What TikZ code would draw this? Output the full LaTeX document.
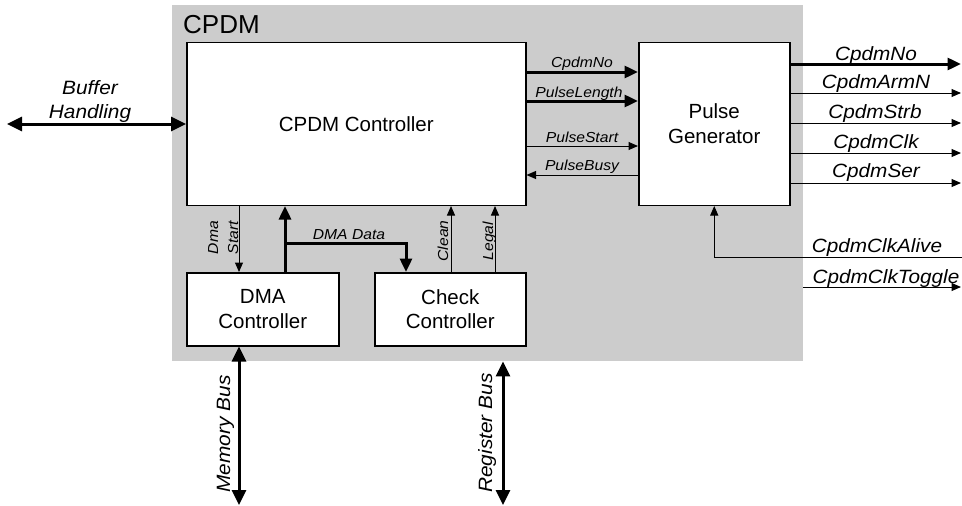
\documentclass[tikz,border=0pt]{standalone}
\usepackage{fontspec}
\setmainfont{Liberation Sans}
\newfontfamily\sigfont[FakeStretch=1.08]{Liberation Sans}
\usetikzlibrary{arrows.meta}
\definecolor{cpdmgray}{HTML}{CCCCCC}

\begin{document}
\begin{tikzpicture}[x=1pt,y=-1pt,
  block/.style={draw, line width=1.5pt, fill=white, inner sep=0pt, align=center,
    font=\fontsize{20.5}{24.7}\selectfont},
  sig/.style={inner sep=0pt, font=\sigfont\itshape\fontsize{14.5}{17}\selectfont},
  outsig/.style={inner sep=0pt, font=\sigfont\itshape\fontsize{19.2}{22}\selectfont},
  buslabel/.style={inner sep=0pt, align=center, font=\sigfont\itshape\fontsize{19.3}{23.5}\selectfont},
  thinarr/.style={line width=1pt, -{Triangle[length=9.5pt,width=8pt]}},
  thickarr/.style={line width=3pt, -{Triangle[length=13.5pt,width=12pt]}},
  busarr/.style={line width=3pt, {Triangle[length=15pt,width=14pt]}-{Triangle[length=15pt,width=14pt]}},
]
\useasboundingbox (0,0) rectangle (962,506);

% enclosing CPDM region
\node[fill=cpdmgray, inner sep=0pt, minimum width=631pt, minimum height=356pt, anchor=north west]
  (cpdm) at (172,5) {};
\node[inner sep=0pt, anchor=base west, font=\fontsize{26}{30}\selectfont] (cpdmlabel) at (183,34) {CPDM};

% functional blocks
\node[block, minimum width=339pt, minimum height=163pt, anchor=north west] (ctrl) at (186,41.5) {CPDM Controller};
\node[block, minimum width=151pt, minimum height=163pt, anchor=north west] (pg) at (638,41.5) {Pulse\\Generator};
\node[block, minimum width=152pt, minimum height=73pt, anchor=north west] (dma) at (186,272) {DMA\\Controller};
\node[block, minimum width=151pt, minimum height=73pt, anchor=north west] (chk) at (374,272) {Check\\Controller};

% controller <-> pulse generator
\draw[thickarr] (ctrl.east |- 0,72) -- (pg.west |- 0,72);
\draw[thickarr] (ctrl.east |- 0,101) -- (pg.west |- 0,101);
\draw[thinarr] (ctrl.east |- 0,146) -- (pg.west |- 0,146);
\draw[thinarr] (pg.west |- 0,175) -- (ctrl.east |- 0,175);
\node[sig, anchor=base] (lno)    at (582,67.5) {CpdmNo};
\node[sig, anchor=base] (llen)   at (579,97)   {PulseLength};
\node[sig, anchor=base] (lstart) at (582,142)  {PulseStart};
\node[sig, anchor=base] (lbusy)  at (582,170.5){PulseBusy};

% pulse generator outputs
\coordinate (oNo)   at (961,64);
\coordinate (oArm)  at (961,93);
\coordinate (oStrb) at (961,123);
\coordinate (oClk)  at (961,153);
\coordinate (oSer)  at (961,183);
\draw[thickarr] (pg.east |- oNo) -- (oNo);
\draw[thinarr] (pg.east |- oArm) -- (oArm);
\draw[thinarr] (pg.east |- oStrb) -- (oStrb);
\draw[thinarr] (pg.east |- oClk) -- (oClk);
\draw[thinarr] (pg.east |- oSer) -- (oSer);
\node[outsig, anchor=base] (lono)   at (876,60.5) {CpdmNo};
\node[outsig, anchor=base] (loarm)  at (876,88.5) {CpdmArmN};
\node[outsig, anchor=base] (lostrb) at (875,118)  {CpdmStrb};
\node[outsig, anchor=base] (loclk)  at (876,148)  {CpdmClk};
\node[outsig, anchor=base] (loser)  at (876,177.5){CpdmSer};

% clock alive input and toggle output
\coordinate (alive) at (962,257);
\draw[thinarr] (alive) -| (pg.south);
\node[outsig, anchor=base] (lalive) at (877,252) {CpdmClkAlive};
\coordinate (toggle) at (961,287);
\draw[thinarr] (cpdm.east |- toggle) -- (toggle);
\node[outsig, anchor=base] (ltoggle) at (886,283) {CpdmClkToggle};

% buffer handling
\coordinate (buf) at (7,124);
\draw[busarr] (buf) -- (ctrl.west |- buf);
\node[buslabel, anchor=south] (lbuf) at (90,122.5) {Buffer\\Handling};

% controller <-> DMA / check controllers
\draw[thinarr] (ctrl.south -| 239,0) -- (dma.north -| 239,0);
\node[sig, rotate=90, anchor=base] (ldma)   at (218,237.5) {Dma};
\node[sig, rotate=90, anchor=base] (lstrt)  at (238,237.5) {Start};
\draw[thickarr] (dma.north -| 285,0) -- (ctrl.south -| 285,0);
\coordinate (branch) at (285,243);
\draw[thickarr] (branch) -| (chk.north -| 406,0);
\node[sig, anchor=base] (ldata) at (349,239) {DMA Data};
\draw[thinarr] (chk.north -| 451,0) -- (ctrl.south -| 451,0);
\draw[thinarr] (chk.north -| 495,0) -- (ctrl.south -| 495,0);
\node[sig, rotate=90, anchor=base] (lclean) at (448,241) {Clean};
\node[sig, rotate=90, anchor=base] (llegal) at (493,241) {Legal};

% external buses
\coordinate (mem) at (239,505);
\draw[busarr] (mem) -- (mem |- dma.south);
\node[buslabel, rotate=90, anchor=base] (lmem) at (230,434) {Memory Bus};
\coordinate (reg) at (503,505);
\draw[busarr] (reg) -- (reg |- cpdm.south);
\node[buslabel, rotate=90, anchor=base] (lreg) at (492,433) {Register Bus};
\end{tikzpicture}
\end{document}
